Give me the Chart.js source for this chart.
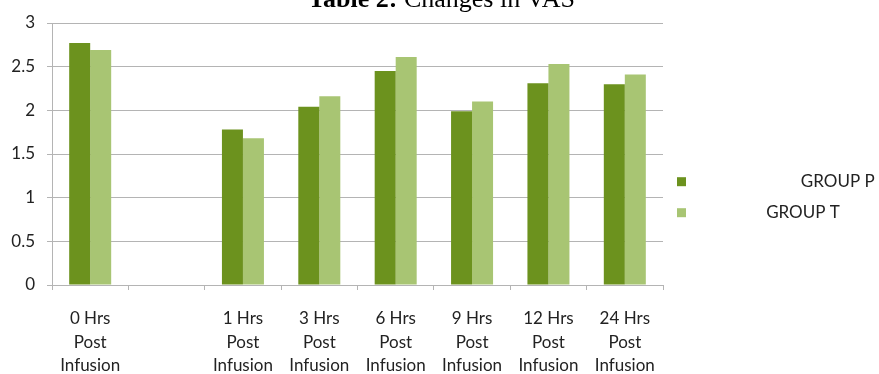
<!DOCTYPE html>
<html>
<head>
<meta charset="utf-8">
<script src="https://cdn.jsdelivr.net/npm/chart.js"></script>
<style>
  html, body { margin: 0; padding: 0; background: #fff; overflow: hidden; }
  #wrap { position: relative; width: 879px; height: 374px; }
  #title {
    position: absolute; top: -14px; left: 2px; width: 879px;
    text-align: center; font: 26px/26px "Liberation Serif", serif; color: #000;
  }
</style>
</head>
<body>
<div id="wrap">
  <canvas id="myChart" width="879" height="374"></canvas>
  <div id="title"><b>Table 2:</b> Changes in VAS</div>
</div>
<script>
// categories (second slot is an empty gap in the original)
var categories = [
    ['0 Hrs', 'Post', 'Infusion'],
    '',
    ['1 Hrs', 'Post', 'Infusion'],
    ['3 Hrs', 'Post', 'Infusion'],
    ['6 Hrs', 'Post', 'Infusion'],
    ['9 Hrs', 'Post', 'Infusion'],
    ['12 Hrs', 'Post', 'Infusion'],
    ['24 Hrs', 'Post', 'Infusion']
];
var groupP = [2.77, null, 1.78, 2.04, 2.45, 1.99, 2.31, 2.30];
var groupT = [2.69, null, 1.68, 2.16, 2.61, 2.10, 2.53, 2.41];
var yTickLabels = ['0', '0.5', '1', '1.5', '2', '2.5', '3'];

// legend labels are right aligned, spaces only push them into place
var pad = '                                                  ';
var seriesNames = [pad + 'GROUP P ', pad + 'GROUP T' + '         '];

var gridColor = '#b4b4b4';
var textColor = '#222';

var ctx = document.getElementById('myChart').getContext('2d');

var myBarChart = new Chart(ctx, {
    type: 'bar',
    data: {
        labels: categories,
        datasets: [{
            label: seriesNames[0],
            data: groupP,
            backgroundColor: '#6c921e'
        }, {
            label: seriesNames[1],
            data: groupT,
            backgroundColor: '#a8c573'
        }]
    },
    options: {
        responsive: false,
        animation: false,
        categoryPercentage: 0.55,
        barPercentage: 1.0,
        layout: { padding: { top: 23, left: 0, right: 0, bottom: 0 } },
        plugins: {
            tooltip: { enabled: false },
            legend: {
                position: 'right',
                fullSize: false,
                maxWidth: 216,
                title: { display: true, text: ' ', font: { size: 12 }, padding: { top: 0, bottom: 72 } },
                labels: {
                    boxWidth: 9,
                    boxHeight: 9,
                    padding: 14,
                    textAlign: 'right',
                    color: textColor,
                    font: { family: 'Lato', size: 17 }
                }
            }
        },
        scales: {
            x: {
                afterFit: function (s) { s.height = 89; },
                grid: { display: true, drawOnChartArea: false, tickLength: 5, color: gridColor, offset: true },
                border: { color: gridColor },
                ticks: {
                    autoSkip: false,
                    maxRotation: 0,
                    padding: 17,
                    color: textColor,
                    font: { family: 'Lato', size: 17, lineHeight: 1.38 }
                }
            },
            y: {
                min: 0,
                max: 3,
                afterFit: function (s) { s.width = 52; },
                grid: { color: gridColor, tickLength: 5 },
                border: { color: gridColor },
                ticks: {
                    stepSize: 0.5,
                    padding: 12,
                    color: textColor,
                    font: { family: 'Lato', size: 17 },
                    callback: function (v, i) { return yTickLabels[i]; }
                }
            }
        }
    }
});
</script>
</body>
</html>
